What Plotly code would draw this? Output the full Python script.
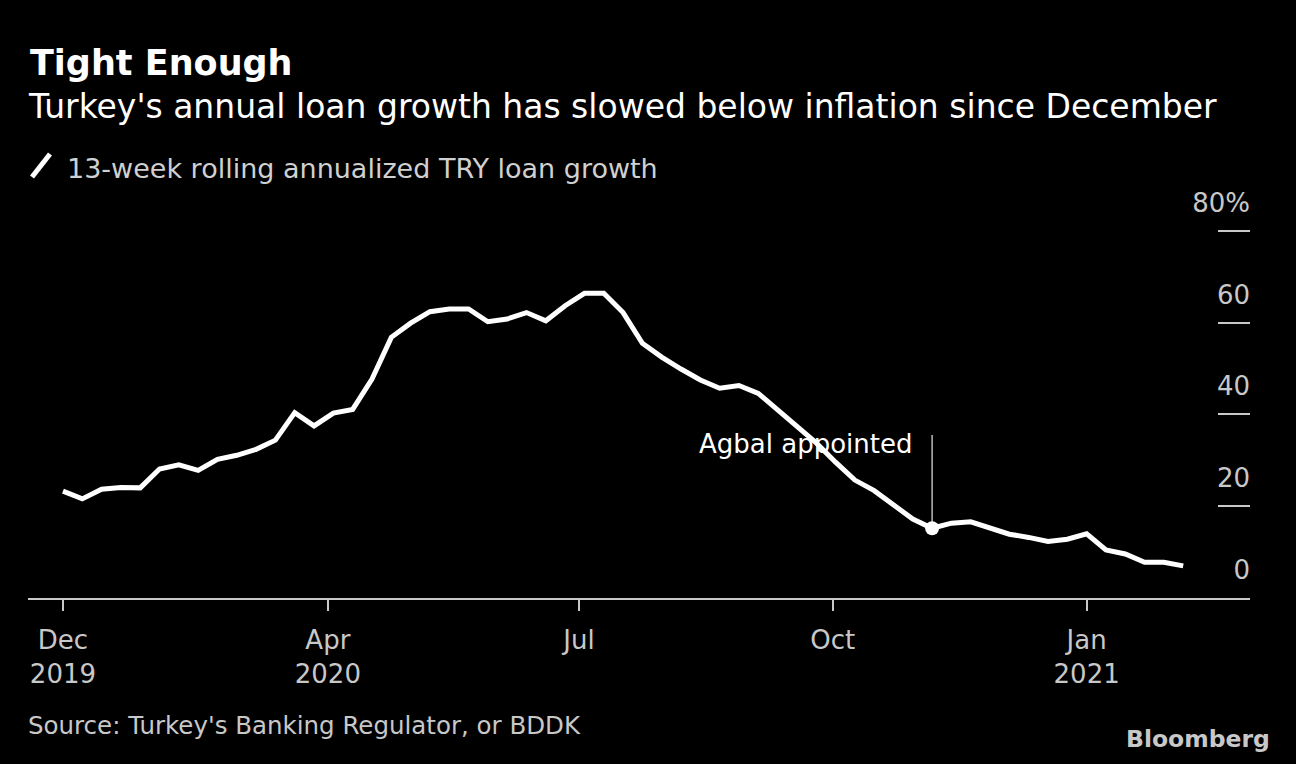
import pandas as pd
import plotly.graph_objects as go

# ---- data ----
start_date = "2019-12-27"
loan_growth = [23.3, 21.6, 23.7, 24.1, 24.0, 28.1, 29.0, 27.8, 30.2, 31.1,
               32.4, 34.4, 40.4, 37.5, 40.3, 41.1, 47.7, 56.8, 59.9, 62.4,
               63.0, 63.0, 60.2, 60.8, 62.2, 60.4, 63.7, 66.4, 66.4, 62.2,
               55.5, 52.5, 49.9, 47.5, 45.7, 46.3, 44.6, 41.0, 37.7, 33.8,
               29.6, 25.7, 23.4, 20.3, 17.2, 15.2, 16.3, 16.6, 15.2, 13.9,
               13.2, 12.3, 12.8, 14.0, 10.5, 9.6, 7.8, 7.8, 7.0]
dates = pd.date_range(start_date, periods=len(loan_growth), freq="7D")

event_date = "2020-11-06"
event_label = "Agbal appointed"
event_top = 35.5

x_tickvals = ["2019-12-27", "2020-04-01", "2020-07-01", "2020-10-01", "2021-01-01"]
x_ticktext = ["Dec<br>2019", "Apr<br>2020", "Jul", "Oct", "Jan<br>2021"]
y_tickvals = [0, 20, 40, 60, 80]
y_ticktext = ["0", "20", "40", "60", "80%"]

title = "Tight Enough"
subtitle = "Turkey's annual loan growth has slowed below inflation since December"
legend_label = "13-week rolling annualized TRY loan growth"
source = "Source: Turkey's Banking Regulator, or BDDK"

# ---- layout geometry ----
W, H = 1296, 764
L, R, T, B = 28, 46, 185, 166
FONT = "DejaVu Sans"
GRAY = "#c8c8c8"


def px(x):
    return (x - L) / (W - L - R)


def py(y):
    return (H - B - y) / (H - T - B)


event_value = float(pd.Series(loan_growth, index=dates)[event_date])

fig = go.Figure()
fig.add_trace(go.Scatter(x=dates, y=loan_growth, mode="lines",
                         line=dict(color="white", width=5),
                         name=legend_label, showlegend=False,
                         hoverinfo="x+y"))
fig.add_trace(go.Scatter(x=[event_date, event_date], y=[event_value, event_top],
                         mode="lines", line=dict(color="#bbbbbb", width=1.5),
                         showlegend=False, hoverinfo="skip"))
fig.add_trace(go.Scatter(x=[event_date], y=[event_value], mode="markers",
                         marker=dict(color="white", size=14),
                         showlegend=False, hoverinfo="x+y"))

ann = [
    dict(text="<b>" + title + "</b>", x=px(28), y=py(63), font=dict(size=35, color="white")),
    dict(text=subtitle, x=px(26), y=py(106), font=dict(size=33, color="white")),
    dict(text=legend_label, x=px(65), y=py(168), font=dict(size=27, color="#d0d0d0")),
    dict(text=source, x=px(26), y=py(725), font=dict(size=24.5, color=GRAY)),
    dict(text="<b>Bloomberg</b>", x=px(1272), y=py(739), xanchor="right",
         font=dict(size=23.5, color=GRAY)),
]
annotations = []
for a in ann:
    d = dict(xref="paper", yref="paper", showarrow=False, xanchor="left", yanchor="middle")
    d.update({k: v for k, v in a.items() if k != "font"})
    d["font"] = dict(family=FONT, **a["font"])
    annotations.append(d)

annotations.append(dict(x=event_date, y=event_top, xref="x", yref="y", text=event_label,
                        showarrow=False, xanchor="right", yanchor="top", xshift=-18, yshift=8,
                        font=dict(family=FONT, size=26, color="white")))

fig.update_layout(
    width=W, height=H,
    margin=dict(l=L, r=R, t=T, b=B),
    paper_bgcolor="black", plot_bgcolor="black",
    font=dict(family=FONT, color=GRAY),
    annotations=annotations,
    shapes=[dict(type="line", xref="paper", yref="paper",
                 x0=px(32), y0=py(177), x1=px(50), y1=py(154),
                 line=dict(color="white", width=5))],
    xaxis=dict(type="date", range=["2019-12-14 08:00", "2021-03-01 05:00"],
               showline=True, linecolor=GRAY, linewidth=2, showgrid=False, zeroline=False,
               ticks="outside", ticklen=11, tickwidth=2, tickcolor=GRAY,
               tickvals=x_tickvals, ticktext=x_ticktext, ticklabelstandoff=7,
               tickfont=dict(family=FONT, size=26, color=GRAY)),
    yaxis=dict(side="right", range=[0, 90], showline=False, showgrid=False, zeroline=False,
               ticks="inside", ticklen=32, tickwidth=2, tickcolor=GRAY,
               tickvals=y_tickvals, ticktext=y_ticktext,
               ticklabelposition="inside top", ticklabelshift=-9, ticklabelstandoff=-3,
               tickfont=dict(family=FONT, size=26, color=GRAY)),
    showlegend=False,
)

fig.write_html("out.html", config={"displayModeBar": False},
               post_script="document.body.style.margin='0';")
